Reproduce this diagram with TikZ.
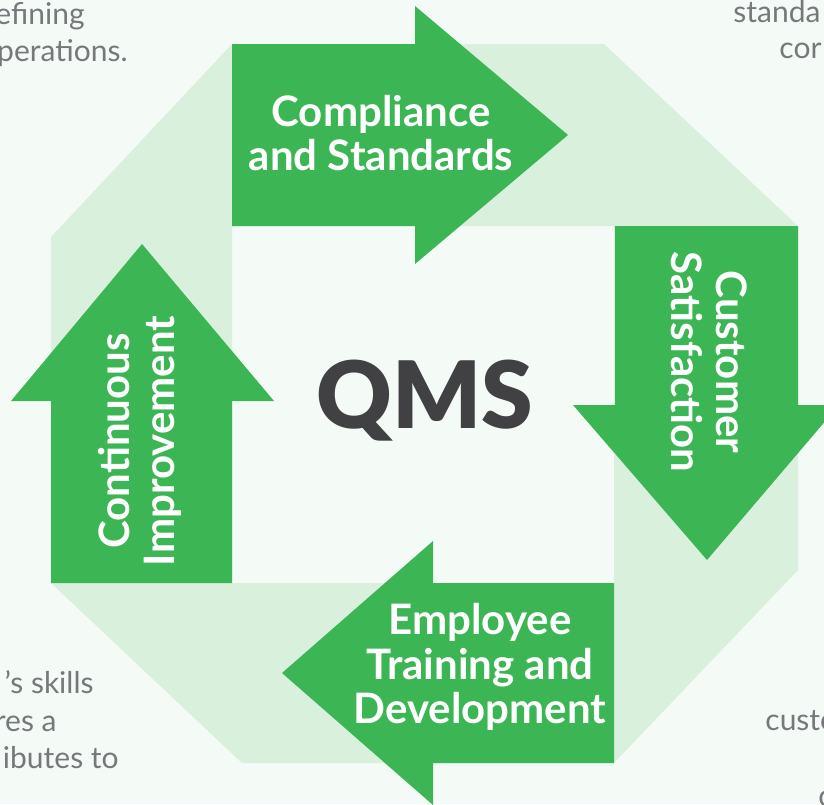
\documentclass[tikz,border=0pt]{standalone}
\usepackage{fontspec}
\setmainfont{Lato}
\newfontfamily\qmsfont{Lato Black}
\usepackage{tikz}
\definecolor{pagebg}{HTML}{F4FAF6}
\definecolor{ringgreen}{HTML}{D9F0DC}
\definecolor{arrowgreen}{HTML}{3CB554}
\definecolor{qmsgray}{HTML}{414042}
\definecolor{notegray}{HTML}{77787B}

\begin{document}
\begin{tikzpicture}[
		x=0.5pt, y=-0.5pt,
		arrowtext/.style={text=white, font=\fontsize{21}{22.25}\selectfont\bfseries, align=center, inner sep=0pt},
		sidetext/.style={text=notegray, font=\fontsize{15}{18.75}\selectfont, inner sep=0pt},
		stage/.style={fill=arrowgreen}
		]
		\useasboundingbox (0,0) rectangle (824,804);
		\clip (0,0) rectangle (824,804);
		\fill[pagebg] (0,0) rectangle (824,804);
		\fill[ringgreen, even odd rule] (232,44) -- (604,44) -- (798,226) -- (798,570) -- (614,763) -- (242,763) -- (51,583) -- (51,237) -- cycle
			(232,226) rectangle (614,583);
		\fill[stage] (232,44) -- (415,44) -- (415,6) -- (568,135) -- (415,264) -- (415,226) -- (232,226) -- cycle;
		\fill[stage] (615,226) -- (798,226) -- (798,405) -- (839,405) -- (707,560) -- (573,405) -- (615,405) -- cycle;
		\fill[stage] (614,583) -- (614,763) -- (433,763) -- (433,805) -- (282,673) -- (433,541) -- (433,583) -- cycle;
		\fill[stage] (51,583) -- (51,401) -- (11,401) -- (142,244) -- (274,401) -- (232,401) -- (232,583) -- cycle;
		\node[arrowtext] (compliance) at (381,133) {Compliance\\and Standards};
		\node[arrowtext, rotate=-90] (customer) at (709,362) {Customer\\Satisfaction};
		\node[arrowtext] (training) at (480,667) {Employee\\Training and\\Development};
		\node[arrowtext, rotate=90] (improvement) at (140,441) {Continuous\\Improvement};
		\node[anchor=base, text=qmsgray, inner sep=0pt, font=\qmsfont\fontsize{46.5}{50}\selectfont] (qms) at (425,428) {QMS};
		\node[sidetext, anchor=base east] (tlone) at (85,24) {efining};
		\node[sidetext, anchor=base east] (tltwo) at (128,61) {perations.};
		\node[sidetext, anchor=base west] (trone) at (733,22) {standa};
		\node[sidetext, anchor=base west] (trtwo) at (779,58) {cor};
		\node[sidetext, anchor=base east] (blone) at (94,693) {’s skills};
		\node[sidetext, anchor=base east] (bltwo) at (57,731) {res a};
		\node[sidetext, anchor=base east] (blthree) at (119,768) {ibutes to};
		\node[sidetext, anchor=base west] (brone) at (822,692) {l};
		\node[sidetext, anchor=base west] (brtwo) at (765,730) {custo};
		\node[sidetext, anchor=base west] (brthree) at (818,806) {c};
	\end{tikzpicture}
\end{document}
